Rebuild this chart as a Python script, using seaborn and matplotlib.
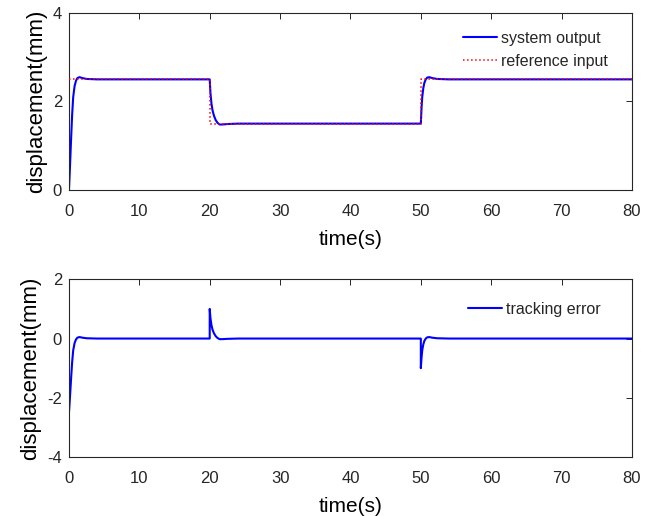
import matplotlib
matplotlib.use("Agg")
import matplotlib.pyplot as plt
import seaborn as sns
import pandas as pd

# ---- data ----
out_t = [0, 0.15, 0.3, 0.45, 0.6, 0.8, 1.0, 1.2, 1.5, 1.9, 2.5, 4, 8, 12, 16, 20,
         20.1, 20.25, 20.4, 20.6, 20.85, 21.1, 21.4, 21.8, 22.5, 24, 28, 35, 42, 50,
         50.1, 50.2, 50.35, 50.5, 50.7, 50.9, 51.2, 51.6, 52.3, 54, 60, 66, 72, 80]
out_v = [0, 0.55, 1.15, 1.7, 2.1, 2.35, 2.47, 2.53, 2.55, 2.53, 2.51, 2.5, 2.5, 2.5, 2.5, 2.5,
         2.2, 1.95, 1.8, 1.68, 1.58, 1.52, 1.48, 1.48, 1.49, 1.5, 1.5, 1.5, 1.5, 1.5,
         1.85, 2.1, 2.3, 2.42, 2.5, 2.54, 2.55, 2.53, 2.51, 2.5, 2.5, 2.5, 2.5, 2.5]

ref_t = [0, 20, 20, 50, 50, 80]
ref_v = [2.5, 2.5, 1.5, 1.5, 2.5, 2.5]

err_t = [0, 0.15, 0.3, 0.45, 0.6, 0.8, 1.0, 1.2, 1.5, 1.9, 2.5, 4, 10, 20,
         20, 20.1, 20.25, 20.4, 20.6, 20.85, 21.1, 21.4, 21.8, 22.5, 24, 35, 50,
         50, 50.1, 50.2, 50.35, 50.5, 50.7, 50.9, 51.2, 51.6, 52.3, 54, 65, 80]
err_v = [-2.5, -1.95, -1.35, -0.8, -0.4, -0.15, -0.03, 0.03, 0.05, 0.03, 0.01, 0, 0, 0,
         1.0, 0.7, 0.45, 0.3, 0.18, 0.08, 0.02, -0.02, -0.02, -0.01, 0, 0, 0,
         -1.0, -0.65, -0.4, -0.2, -0.08, 0, 0.04, 0.05, 0.03, 0.01, 0, 0, 0]

x_ticks = [0, 10, 20, 30, 40, 50, 60, 70, 80]
y_ticks_top = [0, 2, 4]
y_ticks_bot = [-4, -2, 0, 2]

# ---- style ----
sns.set_style("white")
plt.rcParams["font.family"] = ["Liberation Sans", "DejaVu Sans"]
axc = "#262626"

fig = plt.figure(figsize=(6.55, 5.16), dpi=100)
ax1 = fig.add_axes([0.1053, 0.6318, 0.8595, 0.3430])
ax2 = fig.add_axes([0.1053, 0.1143, 0.8595, 0.3444])

df_out = pd.DataFrame({"t": out_t, "v": out_v})
df_ref = pd.DataFrame({"t": ref_t, "v": ref_v})
df_err = pd.DataFrame({"t": err_t, "v": err_v})

sns.lineplot(data=df_out, x="t", y="v", ax=ax1, color="#0000ff", lw=1.5,
             sort=False, estimator=None, label="system output", zorder=2)
sns.lineplot(data=df_ref, x="t", y="v", ax=ax1, color="#ff0000", lw=1.1,
             linestyle=":", sort=False, estimator=None, label="reference input", zorder=3)
sns.lineplot(data=df_err, x="t", y="v", ax=ax2, color="#0000ff", lw=1.5,
             sort=False, estimator=None, label="tracking error", zorder=2)

for ax, yt in ((ax1, y_ticks_top), (ax2, y_ticks_bot)):
    ax.set_xlim(0, 80)
    ax.set_ylim(yt[0], yt[-1])
    ax.set_xticks(x_ticks)
    ax.set_xticklabels([str(v) for v in x_ticks])
    ax.set_yticks(yt)
    ax.set_yticklabels([str(v) for v in yt])
    ax.tick_params(axis="both", direction="in", top=True, right=True, length=4,
                   width=0.7, color=axc, labelcolor=axc, labelsize=12)
    ax.tick_params(axis="x", pad=10)
    ax.tick_params(axis="y", pad=5)
    for s in ax.spines.values():
        s.set_visible(True)
        s.set_color(axc)
        s.set_linewidth(0.8)
    ax.set_xlabel("time(s)", fontsize=15, color="#000000", labelpad=8)
    ax.set_ylabel("displacement(mm)", fontsize=16, color="#000000", labelpad=4)
    ax.grid(False)

ax1.legend(loc="upper left", bbox_to_anchor=(0.70, 0.90), frameon=False, fontsize=11.5,
           handlelength=2.1, handletextpad=0.3, labelspacing=0.5, borderpad=0,
           borderaxespad=0)
ax2.legend(loc="upper left", bbox_to_anchor=(0.709, 0.875), frameon=False, fontsize=11.5,
           handlelength=2.1, handletextpad=0.3, labelspacing=0.5, borderpad=0,
           borderaxespad=0)

fig.savefig("out.png", dpi=100)
